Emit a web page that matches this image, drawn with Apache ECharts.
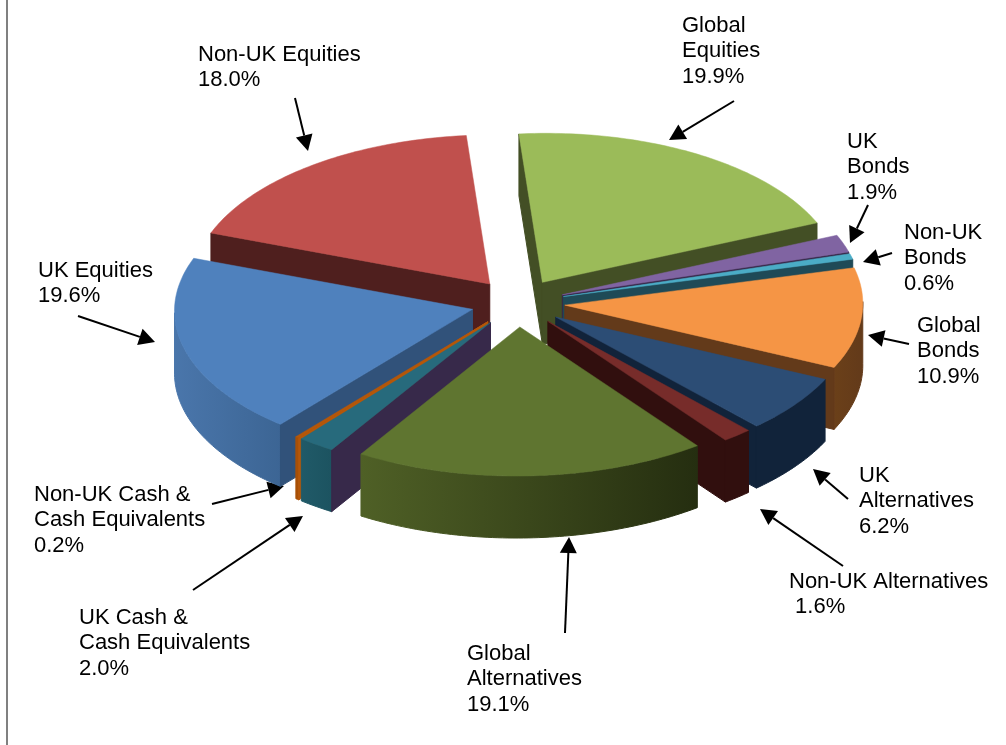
<!DOCTYPE html>
<html>
<head>
<meta charset="utf-8">
<style>html,body{margin:0;padding:0;background:#fff}#c{width:1006px;height:745px}</style>
<script src="https://cdn.jsdelivr.net/npm/echarts@6/dist/echarts.min.js"></script>
</head>
<body>
<div id="c"></div>
<script>
// Data (clockwise from the top of the pie)
var categories = ['Global Equities','UK Bonds','Non-UK Bonds','Global Bonds','UK Alternatives','Non-UK Alternatives','Global Alternatives','UK Cash & Cash Equivalents','Non-UK Cash & Cash Equivalents','UK Equities','Non-UK Equities'];
var values = [19.9,1.9,0.6,10.9,6.2,1.6,19.1,2.0,0.2,19.6,18.0];

// Styles
var topColors   = ['#9bbb59','#8064a2','#4bacc6','#f59545','#2c4d75','#772c2a','#5f7530','#276a7c','#b65708','#4f81bd','#c0504d'];
var edgeColors  = ['#434f25','#37294a','#1f4a57','#633a1a','#11233a','#310f0e','#4a5a24','#37294a','#b65708','#31527a','#4f1f1e'];
var wallLeft    = ['#5f7530','#37294a','#1f4a57','#6b4019','#11233a','#310f0e','#4f6026','#205a68','#a85006','#4a76ab','#4f1f1e'];
var wallRight   = ['#434f25','#37294a','#1f4a57','#633a1a','#11233a','#310f0e','#252e10','#1c5360','#a85006','#3c6594','#4f1f1e'];

// Label text lines and where they sit: [index, left, first-line centre, lines]
var labelSpec = [
  [0,682,26,['Global','Equities','19.9%']],
  [1,847,142,['UK','Bonds','1.9%']],
  [2,904,233,['Non-UK','Bonds','0.6%']],
  [3,917,326,['Global','Bonds','10.9%']],
  [4,859,476,['UK','Alternatives','6.2%']],
  [5,789,582,['Non-UK Alternatives',' 1.6%']],
  [6,467,654,['Global','Alternatives','19.1%']],
  [7,79,618,['UK Cash &','Cash Equivalents','2.0%']],
  [8,34,495,['Non-UK Cash &','Cash Equivalents','0.2%']],
  [9,38,271,['UK Equities','19.6%']],
  [10,198,55,['Non-UK Equities','18.0%']]
];
var arrowSpec = [
  [734,101,669,140],[868,205,850,243],[892,253,863,262],[909,344,868,335],
  [848,499,813,469],[843,566,760,509],[565,633,569,537],[193,590,303,516],
  [212,504,284,486],[78,316,155,342],[295,98,308,151]
];

// Pie projection
var CX=518, CY=303, RX=298, RY=149, EX=47, EY=24, DEPTH=62, START=-3.8, SHEAR_X=0.025, SHEAR_Y=0.012;
var total = values.reduce(function(a,b){return a+b;},0);
var cum = [0];
values.forEach(function(v,i){cum.push(cum[i]+v);});
function ang(c){return echarts.number.linearMap(c,[0,total],[START,START+360])*Math.PI/180;}
function tilt(x,y){return [x+SHEAR_X*(y-CY), y-SHEAR_Y*(x-CX)];}

function renderSlice(params, api){
  var i = api.value(0);
  var v = api.value(1);
  var c0 = cum[i], a0 = ang(c0), a1 = ang(c0+v), mid=(a0+a1)/2;
  var ax = CX+EX*Math.sin(mid), ay = CY-EY*Math.cos(mid);
  var apex = tilt(ax,ay);
  function pt(t,d){var p=tilt(ax+RX*Math.sin(t), ay-RY*Math.cos(t)); return [p[0],p[1]+(d||0)];}
  var steps = Math.max(2,Math.ceil((a1-a0)/(Math.PI/180)));
  var top=[apex];
  for(var s=0;s<=steps;s++){top.push(pt(a0+(a1-a0)*s/steps));}
  var z = Math.round(100*(1-Math.cos(mid)));
  var kids=[];
  function edge(t){
    var p=pt(t);
    return {type:'polygon',z2:z,shape:{points:[apex,p,[p[0],p[1]+DEPTH],[apex[0],apex[1]+DEPTH]]},
      style:{fill:edgeColors[i],stroke:edgeColors[i],lineWidth:1}};
  }
  // outer wall: front half only
  var w0=Math.max(a0,Math.PI/2), w1=Math.min(a1,Math.PI*1.5);
  if(w1>w0){
    var n=Math.max(2,Math.ceil((w1-w0)/(Math.PI/180))), up=[], dn=[];
    for(var k=0;k<=n;k++){var t=w0+(w1-w0)*k/n; up.push(pt(t)); dn.unshift(pt(t,DEPTH));}
    var grad=new echarts.graphic.LinearGradient(0,0,1,0,[{offset:0,color:wallLeft[i]},{offset:1,color:wallRight[i]}]);
    kids.push({type:'polygon',z2:z,shape:{points:up.concat(dn)},
      style:{fill:grad,stroke:grad,lineWidth:1}});
  }
  if(Math.sin(a0)<0) kids.push(edge(a0));
  if(Math.sin(a1)>0) kids.push(edge(a1));
  kids.push({type:'polygon',z2:z,shape:{points:top},style:{fill:topColors[i],stroke:topColors[i],lineWidth:0.5}});
  return {type:'group',children:kids};
}

var graphics=[{type:'line',shape:{x1:7,y1:0,x2:7,y2:745},style:{stroke:'#808080',lineWidth:2},silent:true}];
labelSpec.forEach(function(l){
  l[3].forEach(function(txt,j){
    graphics.push({type:'text',x:l[1],y:l[2]+j*25.3,silent:true,
      style:{text:txt,fill:'#000',font:'22px "Liberation Sans", Arial, sans-serif',textVerticalAlign:'middle',textAlign:'left'}});
  });
});
arrowSpec.forEach(function(a){
  var dx=a[2]-a[0], dy=a[3]-a[1], L=Math.sqrt(dx*dx+dy*dy), ux=dx/L, uy=dy/L, H=16, W=8.5;
  var bx=a[2]-ux*H, by=a[3]-uy*H;
  graphics.push({type:'line',shape:{x1:a[0],y1:a[1],x2:bx,y2:by},style:{stroke:'#000',lineWidth:2},silent:true});
  graphics.push({type:'polygon',shape:{points:[[a[2],a[3]],[bx-uy*W,by+ux*W],[bx+uy*W,by-ux*W]]},style:{fill:'#000'},silent:true});
});

var chart = echarts.init(document.getElementById('c'),null,{renderer:'canvas'});
chart.setOption({
  animation:false,
  backgroundColor:'#fff',
  tooltip:{show:false},
  series:[{
    type:'custom',
    coordinateSystem:'none',
    name:'Allocation',
    renderItem:renderSlice,
    dimensions:['index','value'],
    data:values.map(function(v,i){return {name:categories[i],value:[i,v]};})
  }],
  graphic:graphics
});
</script>
</body>
</html>
